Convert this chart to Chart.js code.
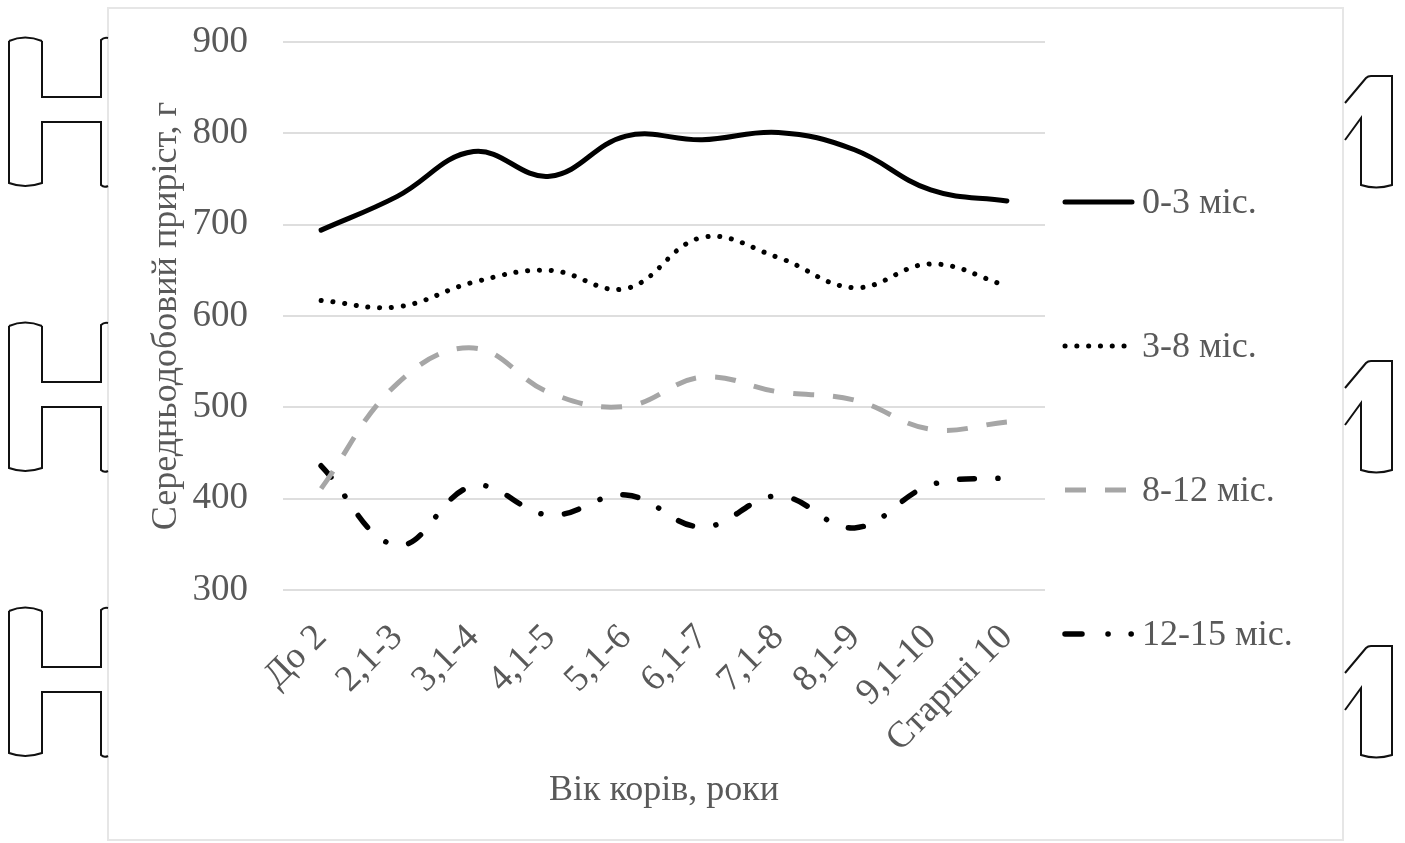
<!DOCTYPE html>
<html lang="uk">
<head>
<meta charset="UTF-8">
<title>Середньодобовий приріст</title>
<script src="https://cdn.jsdelivr.net/npm/chart.js@4/dist/chart.umd.min.js"></script>
<style>
    html, body { margin: 0; padding: 0; background: #fff; }
    #wrap { position: relative; width: 1405px; height: 843px; overflow: hidden; }
    #wrap svg, #wrap canvas { position: absolute; left: 0; top: 0; }
</style>
</head>
<body>
<div id="wrap">
    <svg width="1405" height="843" viewBox="0 0 1405 843">
        <rect x="108" y="8" width="1235" height="832" fill="none" stroke="#e6e6e6" stroke-width="2"/>
        <g id="hForm" fill="none" stroke="#111" stroke-width="2">
            <path d="M 9 41 Q 25 34 42 41"/>
            <path d="M 9 41 L 9 183 Q 25 189 42 183 L 42 122 L 101 122 L 101 185 Q 104 188 108 186"/>
            <path d="M 42 41 L 42 97 L 101 97 L 101 40 Q 104 37 108 38"/>
        </g>
        <use href="#hForm" transform="translate(0,285)"/>
        <use href="#hForm" transform="translate(0,570)"/>
        <g id="oneForm" fill="none" stroke="#111" stroke-width="2" transform="translate(0,-285)">
            <path d="M 1345 388 L 1366 363 Q 1368 361 1371 361 L 1392 361 L 1392 470 Q 1376 475 1361 470 L 1361 403 L 1345 425"/>
        </g>
        <use href="#oneForm" transform="translate(0,285)"/>
        <use href="#oneForm" transform="translate(0,570)"/>
    </svg>
    <canvas id="priristChart" width="1405" height="843"></canvas>
</div>
<script>
// categorias (вік корів) e séries
const vikKoriv = ['До 2', '2,1-3', '3,1-4', '4,1-5', '5,1-6', '6,1-7', '7,1-8', '8,1-9', '9,1-10', 'Старші 10'];
const seriesLabels = ['0-3 міс.', '3-8 міс.', '8-12 міс.', '12-15 міс.'];
const misyatsi0_3 = [694, 731, 780, 753, 797, 793, 801, 782, 738, 726];
const misyatsi3_8 = [617, 610, 637, 650, 630, 686, 664, 631, 657, 633];
const misyatsi8_12 = [411, 526, 565, 516, 501, 533, 517, 508, 476, 484];
const misyatsi12_15 = [436, 349, 414, 382, 404, 369, 403, 368, 415, 423];
const yTicks = [300, 400, 500, 600, 700, 800, 900];

const FONTE = '"Liberation Serif", "Times New Roman", serif';
const CINZA_TEXTO = '#595959';

// legenda à direita, desenhada à mão para respeitar o tracejado
const legendaPlugin = {
    id: 'legendaDireita',
    afterDraw(chart) {
        const ctx = chart.ctx;
        chart.data.datasets.forEach((ds, i) => {
            const y = 202 + i * 144;
            ctx.save();
            ctx.strokeStyle = ds.borderColor;
            ctx.lineWidth = ds.borderWidth;
            ctx.lineCap = ds.borderCapStyle || 'butt';
            ctx.setLineDash(ds.legendDash || ds.borderDash || []);
            ctx.beginPath();
            ctx.moveTo(1065, y);
            ctx.lineTo(1132, y);
            ctx.stroke();
            ctx.setLineDash([]);
            ctx.fillStyle = CINZA_TEXTO;
            ctx.font = '36px ' + FONTE;
            ctx.textBaseline = 'middle';
            ctx.textAlign = 'left';
            ctx.fillText(ds.label, 1142, y + 2);
            ctx.restore();
        });
    }
};

const ctx = document.getElementById('priristChart').getContext('2d');
new Chart(ctx, {
    type: 'line',
    data: {
        labels: vikKoriv,
        datasets: [
            {
                label: seriesLabels[0],
                data: misyatsi0_3,
                borderColor: '#000',
                borderWidth: 5,
                borderCapStyle: 'round'
            },
            {
                label: seriesLabels[1],
                data: misyatsi3_8,
                borderColor: '#000',
                borderWidth: 5,
                borderCapStyle: 'round',
                borderDash: [0.1, 11.7]
            },
            {
                label: seriesLabels[2],
                data: misyatsi8_12,
                borderColor: '#a6a6a6',
                borderWidth: 5,
                borderCapStyle: 'butt',
                borderDash: [21, 19]
            },
            {
                label: seriesLabels[3],
                data: misyatsi12_15,
                borderColor: '#000',
                borderWidth: 5.5,
                borderCapStyle: 'round',
                borderDash: [15, 23.5, 0.1, 23.5],
                legendDash: [17, 26, 0.1, 23, 0.1, 200]
            }
        ]
    },
    options: {
        responsive: false,
        animation: false,
        elements: {
            line: { tension: 0.4, fill: false },
            point: { radius: 0, hoverRadius: 0 }
        },
        layout: { padding: { left: 145, top: 42, right: 360, bottom: 31 } },
        plugins: {
            legend: { display: false },
            tooltip: { enabled: false }
        },
        scales: {
            x: {
                offset: true,
                grid: { display: false },
                border: { display: false },
                ticks: {
                    autoSkip: false,
                    minRotation: 45,
                    maxRotation: 45,
                    padding: 18,
                    labelOffset: 0,
                    color: CINZA_TEXTO,
                    font: { family: FONTE, size: 37 }
                },
                title: {
                    display: true,
                    text: 'Вік корів, роки',
                    color: CINZA_TEXTO,
                    padding: 0,
                    font: { family: FONTE, size: 36 }
                },
                afterFit: (scale) => { scale.height = 222; }
            },
            y: {
                min: 300,
                max: 900,
                afterBuildTicks: (scale) => { scale.ticks = yTicks.map(v => ({ value: v })); },
                grid: { color: '#dedede', lineWidth: 2, drawTicks: false },
                border: { display: false },
                ticks: {
                    padding: 35,
                    color: CINZA_TEXTO,
                    font: { family: FONTE, size: 37 }
                },
                title: {
                    display: true,
                    text: 'Середньодобовий приріст, г',
                    color: CINZA_TEXTO,
                    padding: 0,
                    font: { family: FONTE, size: 36 }
                },
                afterFit: (scale) => {
                    scale.width = 138;
                    // sem isto o padding dos ticks empurra o topo da área
                    scale.paddingTop = 20;
                    scale.paddingBottom = 20;
                }
            }
        }
    },
    plugins: [legendaPlugin]
});
</script>
</body>
</html>
